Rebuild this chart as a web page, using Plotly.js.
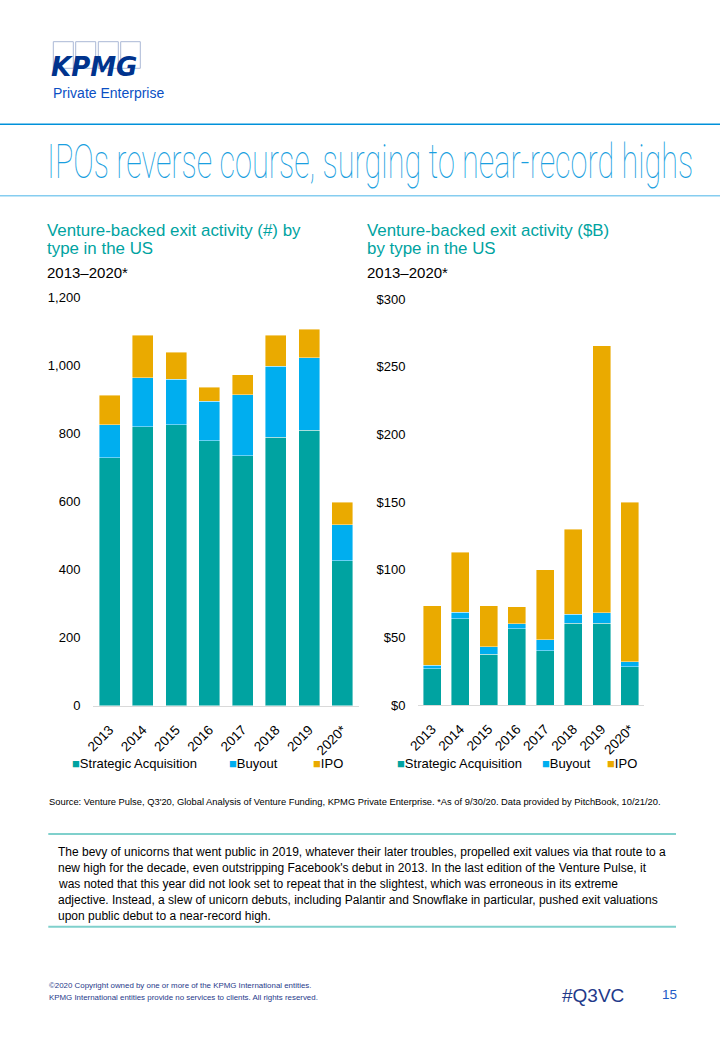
<!DOCTYPE html>
<html>
<head>
<meta charset="utf-8">
<script src="https://cdn.plot.ly/plotly-3.0.1.min.js"></script>
<style>
  html, body { margin:0; padding:0; background:#fff; }
  #page { position:relative; width:720px; height:1040px; overflow:hidden; }
  #chart { position:absolute; left:0; top:0; width:720px; height:1040px; }
  #title { position:absolute; left:46.7px; top:137px; font-family:Roboto, 'Liberation Sans', sans-serif;
           font-weight:100; font-size:49px; line-height:1; color:#1a9fe0; white-space:nowrap;
           transform-origin:0 0; z-index:5; }
</style>
</head>
<body>
<div id="page">
  <div id="chart"></div>
  <div id="title"><span id="titleText">IPOs reverse course, surging to near-record highs</span></div>
</div>
<script>
// ---- data ----
const years = ['2013', '2014', '2015', '2016', '2017', '2018', '2019', '2020*'];
const countStrategic = [730, 821, 826, 780, 735, 789, 810, 427];
const countBuyout    = [96, 144, 134, 116, 179, 210, 214, 105];
const countIPO       = [87, 125, 80, 41, 60, 90, 83, 66];
const valueStrategic = [26.8, 63.8, 37.4, 56.4, 40.1, 60.3, 60.3, 28.1];
const valueBuyout    = [2.5, 4.9, 5.5, 3.7, 8.2, 6.7, 7.7, 3.9];
const valueIPO       = [43.9, 44.3, 30.5, 12.6, 51.5, 62.8, 197.3, 117.8];
const countTicks      = [0, 200, 400, 600, 800, 1000, 1200];
const countTickLabels = ['0', '200', '400', '600', '800', '1,000', '1,200'];
const valueTicks      = [0, 50, 100, 150, 200, 250, 300];
const valueTickLabels = ['$0', '$50', '$100', '$150', '$200', '$250', '$300'];
const seriesNames = ['Strategic Acquisition', 'Buyout', 'IPO'];
const seriesColors = ['#00A3A1', '#00AEEF', '#EAAA00'];

// ---- helpers (page pixel -> paper) ----
const W = 720, H = 1040;
const px = x => x / W;
const py = y => 1 - y / H;
const FONT = 'Liberation Sans, Arial, sans-serif';

function ann(text, x, y, size, color, extra) {
  return Object.assign({
    text: text, xref: 'paper', yref: 'paper', x: px(x), y: py(y),
    xanchor: 'left', yanchor: 'middle', showarrow: false,
    borderpad: 0, borderwidth: 0,
    font: { family: FONT, size: size, color: color }
  }, extra || {});
}

const lineStyle = { color: 'rgba(255,255,255,0.7)', width: 0.6 };
function bars(yvals, i, xa, ya) {
  return { type: 'bar', x: years, y: yvals, name: seriesNames[i], xaxis: xa, yaxis: ya,
           marker: { color: seriesColors[i], line: lineStyle }, showlegend: false,
           hoverinfo: 'skip' };
}

const data = [
  bars(countStrategic, 0, 'x', 'y'),
  bars(countBuyout, 1, 'x', 'y'),
  bars(countIPO, 2, 'x', 'y'),
  bars(valueStrategic, 0, 'x2', 'y2'),
  bars(valueBuyout, 1, 'x2', 'y2'),
  bars(valueIPO, 2, 'x2', 'y2')
];

const xcommon = {
  type: 'category', showgrid: false, zeroline: false, showline: true,
  linecolor: '#d9d9d9', linewidth: 1, ticks: 'outside', ticklen: 10, tickcolor: 'rgba(0,0,0,0)',
  tickangle: -45, tickfont: { family: FONT, size: 13.5, color: '#000' }, fixedrange: true
};
const ycommon = {
  showgrid: false, zeroline: false, showline: false, ticks: 'outside', ticklen: 9,
  tickcolor: 'rgba(0,0,0,0)', tickfont: { family: FONT, size: 13, color: '#000' }, fixedrange: true
};

const teal = '#00A3A1';
const footBlue = '#1f3a8a';
const sq = c => '<span style="color:' + c + '">■</span>';
const annotations = [
  // logo
  ann('KPMG', 51, 66.5, 26, '#00338D', { font: { family: 'DejaVu Sans, Liberation Sans', size: 26, color: '#00338D', weight: 700, style: 'italic' } }),
  ann('Private Enterprise', 53, 92.8, 14, '#0a4fc4'),
  // chart subtitles
  ann('Venture-backed exit activity (#) by', 47, 230.5, 16.9, teal),
  ann('type in the US', 47, 248.5, 16.9, teal),
  ann('2013–2020*', 47, 273, 15, '#000'),
  ann('Venture-backed exit activity ($B)', 367, 230.5, 16.9, teal),
  ann('by type in the US', 367, 248.5, 16.9, teal),
  ann('2013–2020*', 367, 273, 15, '#000'),
  // legends
  ann(sq(seriesColors[0]) + seriesNames[0], 72, 763, 13, '#000'),
  ann(sq(seriesColors[1]) + seriesNames[1], 229, 763, 13, '#000'),
  ann(sq(seriesColors[2]) + seriesNames[2], 313, 763, 13, '#000'),
  ann(sq(seriesColors[0]) + seriesNames[0], 397, 763, 13, '#000'),
  ann(sq(seriesColors[1]) + seriesNames[1], 542, 763, 13, '#000'),
  ann(sq(seriesColors[2]) + seriesNames[2], 607, 763, 13, '#000'),
  // source
  ann("Source: Venture Pulse, Q3'20, Global Analysis of Venture Funding, KPMG Private Enterprise. *As of 9/30/20. Data provided by PitchBook, 10/21/20.",
      48.5, 802, 9.35, '#000'),
  // paragraph
  ann('The bevy of unicorns that went public in 2019, whatever their later troubles, propelled exit values via that route to a', 58.3, 851.7, 12, '#000'),
  ann("new high for the decade, even outstripping Facebook's debut in 2013. In the last edition of the Venture Pulse, it", 58.3, 867.7, 12, '#000'),
  ann('was noted that this year did not look set to repeat that in the slightest, which was erroneous in its extreme', 58.3, 883.7, 12, '#000'),
  ann('adjective. Instead, a slew of unicorn debuts, including Palantir and Snowflake in particular, pushed exit valuations', 58.3, 899.7, 12, '#000'),
  ann('upon public debut to a near-record high.', 58.3, 915.7, 12, '#000'),
  // footer
  ann('©2020 Copyright owned by one or more of the KPMG International entities.', 48.5, 985, 7.9, footBlue),
  ann('KPMG International entities provide no services to clients. All rights reserved.', 48.5, 997, 7.9, footBlue),
  ann('#Q3VC', 562, 995, 19, footBlue),
  ann('15', 662, 994, 13.5, '#1e5bc6')
];

const boxLine = { color: '#aab8d6', width: 1 };
function rect(x0, y0, x1, y1, line, fill) {
  return { type: 'rect', xref: 'paper', yref: 'paper', x0: px(x0), x1: px(x1), y0: py(y0), y1: py(y1),
           line: line, fillcolor: fill || 'rgba(0,0,0,0)', layer: 'above' };
}
function hline(x0, x1, y, color, width) {
  return { type: 'line', xref: 'paper', yref: 'paper', x0: px(x0), x1: px(x1), y0: py(y), y1: py(y),
           line: { color: color, width: width }, layer: 'above' };
}
const shapes = [
  rect(53.3, 41.7, 73.3, 68.3, boxLine),
  rect(75.7, 41.7, 95.7, 68.3, boxLine),
  rect(98.3, 41.7, 118.3, 68.3, boxLine),
  rect(120.7, 41.7, 140.3, 68.3, boxLine),
  hline(0, 720, 124.3, '#0091DA', 1.5),
  hline(0, 720, 195.7, '#86cdf0', 1.5),
  hline(48.3, 676, 834, '#7fd0cc', 2),
  hline(48.3, 676, 926.7, '#7fd0cc', 2)
];

const layout = {
  width: W, height: H, margin: { l: 0, r: 0, t: 0, b: 0 },
  paper_bgcolor: '#fff', plot_bgcolor: '#fff',
  font: { family: FONT, size: 13, color: '#000' },
  barmode: 'stack', bargap: 0.37, showlegend: false,
  xaxis: Object.assign({}, xcommon, { domain: [px(93), px(359)], anchor: 'y' }),
  yaxis: Object.assign({}, ycommon, { domain: [py(705.7), py(297.7)], range: [0, 1200],
                                      tickvals: countTicks, ticktext: countTickLabels, anchor: 'x' }),
  xaxis2: Object.assign({}, xcommon, { domain: [px(418), px(644)], anchor: 'y2' }),
  yaxis2: Object.assign({}, ycommon, { domain: [py(705), py(299)], range: [0, 300],
                                       tickvals: valueTicks, ticktext: valueTickLabels, anchor: 'x2' }),
  annotations: annotations,
  shapes: shapes
};

Plotly.newPlot('chart', data, layout, { staticPlot: true, displayModeBar: false });

// condensed headline: scale to the measured width of the original
(function () {
  const t = document.getElementById('title');
  const w = document.getElementById('titleText').getBoundingClientRect().width;
  t.style.transform = 'scaleX(' + (646.3 / w) + ')';
})();
</script>
</body>
</html>
